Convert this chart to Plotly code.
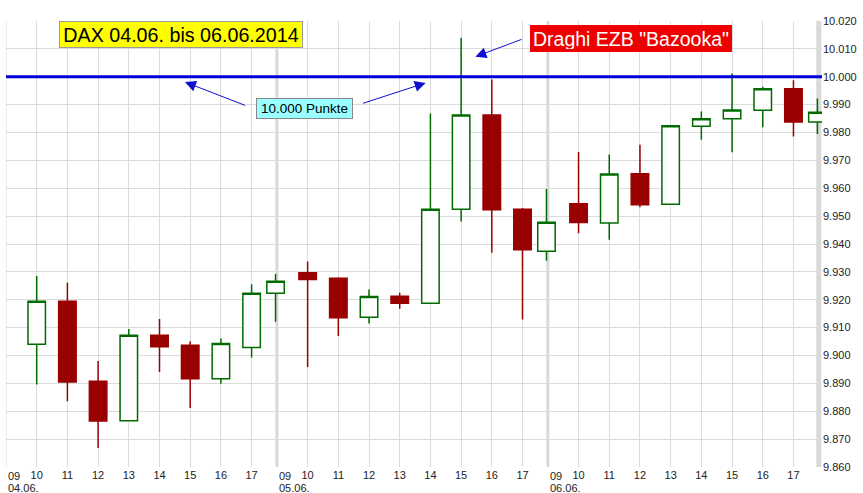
import plotly.graph_objects as go

# ---------------- data ----------------
day_labels = ["04.06.", "05.06.", "06.06."]
hour_ticks = [10, 11, 12, 13, 14, 15, 16, 17]
start_hour_label = "09"
# candle slots per day: hourly candles 10..17 plus the closing candle
slot_hours = [10, 11, 12, 13, 14, 15, 16, 17, 17.78]

candle_day = [0] * 9 + [1] * 9 + [2] * 9
candle_hour = slot_hours * 3

open_ = [9904.0, 9919.5, 9890.8, 9876.6, 9907.3, 9903.7, 9891.7, 9902.9, 9922.3,
         9929.7, 9927.7, 9913.7, 9921.3, 9918.7, 9952.5, 9986.3, 9952.5, 9937.4,
         9954.4, 9947.5, 9965.2, 9954.3, 9982.2, 9984.9, 9988.0, 9995.7, 9983.8]
high = [9928.5, 9926.1, 9898.0, 9909.5, 9913.1, 9905.1, 9906.1, 9925.6, 9929.2,
        9933.7, 9928.1, 9923.7, 9922.5, 9986.8, 10014.0, 9999.0, 9952.9, 9959.7,
        9973.0, 9972.1, 9975.6, 9982.6, 9987.5, 10001.2, 9996.4, 9998.7, 9992.2]
low = [9889.6, 9883.6, 9866.8, 9876.5, 9894.1, 9881.2, 9889.9, 9899.3, 9912.1,
       9895.9, 9907.0, 9911.5, 9916.8, 9918.5, 9948.1, 9936.9, 9912.9, 9934.0,
       9943.9, 9941.5, 9953.2, 9954.3, 9977.4, 9972.9, 9981.9, 9978.6, 9979.5]
close = [9919.5, 9890.5, 9876.5, 9907.3, 9903.1, 9891.7, 9904.3, 9922.3, 9926.6,
         9927.3, 9913.5, 9921.2, 9918.7, 9952.5, 9986.3, 9952.3, 9937.9, 9947.8,
         9947.7, 9965.1, 9954.1, 9982.4, 9984.9, 9988.1, 9995.7, 9983.8, 9987.3]

y_ticks = list(range(9860, 10021, 10))
level = 10000

title_text = "DAX 04.06. bis 06.06.2014"
event_text = "Draghi EZB \"Bazooka\""
level_text = "10.000 Punkte"

# ---------------- axis mapping ----------------
DAY_LEN = 8.825  # hours-units from one day's 09:00 to the next


def pos(day, hour):
    return day * DAY_LEN + (hour - 9)


x = [pos(d, h) for d, h in zip(candle_day, candle_hour)]

tickvals, ticktext = [], []
for d in range(len(day_labels)):
    for h in hour_ticks:
        tickvals.append(pos(d, h))
        ticktext.append(str(h))

FONT = "Liberation Sans, Arial, sans-serif"

fig = go.Figure()
fig.add_trace(go.Candlestick(
    x=x, open=open_, high=high, low=low, close=close,
    increasing=dict(line=dict(color="#006b00", width=1.5), fillcolor="#ffffff"),
    decreasing=dict(line=dict(color="#990000", width=1.5), fillcolor="#990000"),
    whiskerwidth=0, hoverinfo="skip", showlegend=False,
))

shapes = []
# day separators
for d in range(len(day_labels) + 1):
    w = 1 if d == 0 else (3 if d < len(day_labels) else 5)
    shapes.append(dict(type="line", xref="x", yref="paper", x0=pos(d, 9), x1=pos(d, 9),
                       y0=0, y1=1, line=dict(color="#d9d9d9", width=w), layer="below"))
# 10.000 line
shapes.append(dict(type="line", xref="paper", yref="y", x0=0, x1=1, y0=level, y1=level,
                   line=dict(color="#0000dd", width=3), layer="above"))

annotations = []
for d, lab in enumerate(day_labels):
    annotations.append(dict(x=pos(d, 9), y=0, xref="x", yref="paper", text=start_hour_label,
                            showarrow=False, xanchor="left", yanchor="middle", yshift=-9,
                            font=dict(family=FONT, size=11, color="#222")))
    annotations.append(dict(x=pos(d, 9), y=0, xref="x", yref="paper", text=lab,
                            showarrow=False, xanchor="left", yanchor="middle", yshift=-21,
                            font=dict(family=FONT, size=11, color="#222")))

annotations.append(dict(x=5.70, y=10015.0, xref="x", yref="y", text=title_text, showarrow=False,
                        font=dict(family=FONT, size=19.7, color="#000"), bgcolor="#ffff00",
                        bordercolor="#999999", borderwidth=1, borderpad=2, width=238, height=21))
annotations.append(dict(x=20.36, y=10013.8, xref="x", yref="y", text=event_text, showarrow=False,
                        font=dict(family=FONT, size=19.5, color="#ffffff"), bgcolor="#ee0000",
                        bordercolor="#ee0000", borderwidth=1, borderpad=2, width=196, height=21))
annotations.append(dict(x=9.72, y=9988.7, xref="x", yref="y", text=level_text, showarrow=False,
                        font=dict(family=FONT, size=13.5, color="#000"), bgcolor="#99ffff",
                        bordercolor="#888888", borderwidth=1, borderpad=2, width=91, height=15))

arrows = [((5.83, 9998.1), (7.84, 9989.5)),
          ((13.67, 9997.8), (11.58, 9990.3)),
          ((15.29, 10007.2), (16.84, 10013.6))]
for (hx, hy), (tx, ty) in arrows:
    annotations.append(dict(x=hx, y=hy, ax=tx, ay=ty, xref="x", yref="y", axref="x", ayref="y",
                            text="", showarrow=True, arrowhead=2, arrowsize=2.2, arrowwidth=1,
                            arrowcolor="#1010d0"))

fig.update_layout(
    width=863, height=493,
    margin=dict(l=6, r=41, t=21, b=26),
    paper_bgcolor="#ffffff", plot_bgcolor="#ffffff",
    boxgap=0.27, boxgroupgap=0,
    showlegend=False,
    shapes=shapes, annotations=annotations,
    font=dict(family=FONT, size=11, color="#222"),
    xaxis=dict(range=[0, 26.58], tickvals=tickvals, ticktext=ticktext, showgrid=True,
               gridcolor="#dcdcdc", gridwidth=1, zeroline=False, ticks="", showline=False,
               rangeslider=dict(visible=False), fixedrange=True,
               tickfont=dict(family=FONT, size=11, color="#222")),
    yaxis=dict(range=[9860, 10020], side="right", tickvals=y_ticks,
               ticktext=[f"{v:,}".replace(",", ".") for v in y_ticks],
               showgrid=True, gridcolor="#dcdcdc", gridwidth=1, zeroline=False, ticks="",
               showline=False, fixedrange=True,
               tickfont=dict(family=FONT, size=11, color="#222")),
)

fig.write_html("out.html", config={"displayModeBar": False},
               post_script="document.body.style.margin='0';document.body.style.overflow='hidden';")
